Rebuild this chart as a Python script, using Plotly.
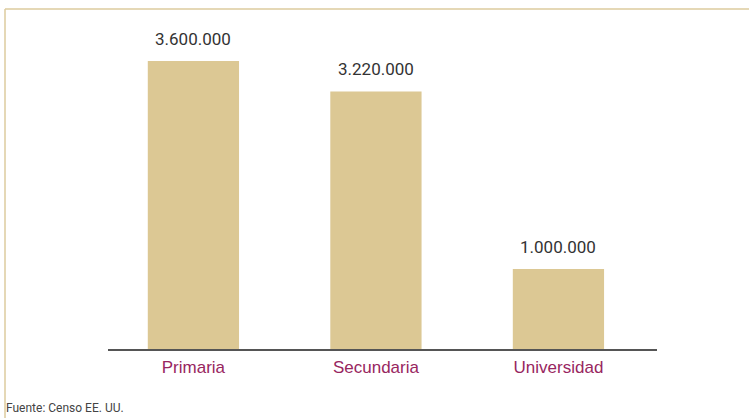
import plotly.graph_objects as go

categorias = ["Primaria", "Secundaria", "Universidad"]
valores = [3600000, 3220000, 1000000]
etiquetas = ["3.600.000", "3.220.000", "1.000.000"]
fuente = "Fuente: Censo EE. UU."

bar_color = "#DCC894"
label_color = "#982660"

fig = go.Figure(go.Bar(
    x=list(range(len(categorias))), y=valores,
    marker=dict(color=bar_color, line=dict(width=0)),
    width=0.5, hoverinfo="skip",
))

# etiquetas de valor sobre las barras
for i, (v, t) in enumerate(zip(valores, etiquetas)):
    fig.add_annotation(x=i, y=v, text=t, showarrow=False, yanchor="bottom",
                       yshift=10, font=dict(family="Roboto", size=17, color="#333333"))

W, H = 749, 418
L, R, T, B = 108, 92, 20, 69
pw = W - L - R
ph = H - T - B

fig.add_annotation(xref="paper", yref="paper", x=(4 - L) / pw, y=-(408 - (H - B)) / ph,
                   xanchor="left", yanchor="middle", text=fuente, showarrow=False,
                   font=dict(family="Roboto", size=12, color="#444444"))

# marco
ytop = (H - B - 9) / ph
fig.add_shape(type="line", xref="paper", yref="paper",
              x0=(5 - L) / pw, x1=(W - L) / pw, y0=ytop, y1=ytop,
              line=dict(color="#DCCB9E", width=1.5))
fig.add_shape(type="line", xref="paper", yref="paper",
              x0=(5 - L) / pw, x1=(5 - L) / pw, y0=ytop, y1=-B / ph,
              line=dict(color="#DCCB9E", width=1.5))

fig.update_xaxes(range=[-0.468, 2.54], tickvals=[0, 1, 2], ticktext=categorias,
                 showgrid=False, zeroline=False, showline=True, linecolor="#555555", linewidth=1.5,
                 ticks="", ticklabelstandoff=2,
                 tickfont=dict(family="Liberation Sans, Arial", size=17, color=label_color))
fig.update_yaxes(range=[0, ph / 80 * 1e6], visible=False, showgrid=False, zeroline=False)

fig.update_layout(width=W, height=H, margin=dict(l=L, r=R, t=T, b=B),
                  paper_bgcolor="white", plot_bgcolor="white", showlegend=False)

fig.write_html("out.html", config={"displayModeBar": False},
               post_script="document.body.style.margin='0';")
